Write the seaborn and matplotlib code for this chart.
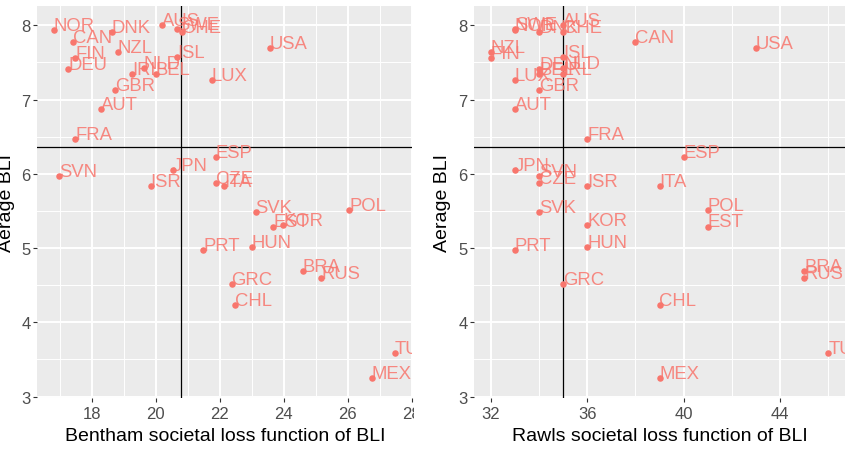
import matplotlib
matplotlib.use("Agg")
import matplotlib.pyplot as plt
import matplotlib.transforms as mtransforms
import seaborn as sns
import pandas as pd
import numpy as np

countries = ["AUS", "AUT", "BEL", "CAN", "CHL", "CZE", "DNK", "EST", "FIN", "FRA",
             "DEU", "GRC", "HUN", "ISL", "IRL", "ISR", "ITA", "JPN", "KOR", "LUX",
             "MEX", "NLD", "NZL", "NOR", "POL", "PRT", "SVK", "SVN", "ESP", "SWE",
             "CHE", "TUR", "GBR", "USA", "BRA", "RUS"]

avg_bli = [8.01, 6.87, 7.34, 7.77, 4.23, 5.87, 7.91, 5.29, 7.56, 6.47,
           7.41, 4.51, 5.01, 7.57, 7.34, 5.84, 5.84, 6.05, 5.31, 7.27,
           3.25, 7.43, 7.64, 7.94, 5.51, 4.97, 5.48, 5.97, 6.23, 7.95,
           7.91, 3.59, 7.13, 7.70, 4.69, 4.59]

bentham = [20.19, 18.29, 20.00, 17.40, 22.48, 21.87, 18.63, 23.68, 17.48, 17.48,
           17.27, 22.37, 23.00, 20.67, 19.27, 19.84, 22.15, 20.54, 23.98, 21.75,
           26.75, 19.63, 18.81, 16.82, 26.05, 21.48, 23.12, 16.98, 21.87, 20.68,
           20.83, 27.48, 18.73, 23.57, 24.59, 25.17]

rawls = [35, 33, 34, 38, 39, 34, 34, 41, 32, 36,
         34, 35, 36, 35, 35, 36, 39, 33, 36, 33,
         39, 35, 32, 33, 41, 33, 34, 34, 40, 33,
         35, 46, 34, 43, 45, 45]

hline_bli = 6.355
vline_bentham = 20.8
vline_rawls = 35.0

left_xticks = [18, 20, 22, 24, 26, 28]
right_xticks = [32, 36, 40, 44]
yticks = [3, 4, 5, 6, 7, 8]

df = pd.DataFrame({"country": countries, "bli": avg_bli,
                   "bentham": bentham, "rawls": rawls})

plt.rcParams["font.family"] = ["Liberation Sans", "DejaVu Sans"]

W, H = 849, 452
fig = plt.figure(figsize=(W / 100, H / 100), dpi=100)

PT_COLOR = "#F8766D"
PANEL = "#EBEBEB"


def px_axes(x0, x1, y0, y1):
    return fig.add_axes([x0 / W, 1 - y1 / H, (x1 - x0) / W, (y1 - y0) / H])


def style(ax, xlim, xticks, minor_x):
    ax.set_facecolor(PANEL)
    ax.set_xlim(*xlim)
    ax.set_ylim(2.98, 8.26)
    ax.set_xticks(xticks)
    ax.set_xticks(minor_x, minor=True)
    ax.set_yticks(yticks)
    ax.set_yticks([3.5, 4.5, 5.5, 6.5, 7.5], minor=True)
    ax.grid(which="major", color="white", lw=1.4)
    ax.grid(which="minor", color="white", lw=0.7)
    ax.set_axisbelow(True)
    for s in ax.spines.values():
        s.set_visible(False)
    ax.tick_params(which="major", length=3, width=0.8, color="#333333",
                   labelcolor="#4D4D4D", labelsize=12)
    ax.tick_params(axis="y", pad=1.5)
    ax.tick_params(axis="x", pad=2.5)
    ax.tick_params(which="minor", length=0)
    ax.set_xlabel("")
    ax.set_ylabel("")


def draw(ax, xcol, vline):
    ax.axhline(hline_bli, color="black", lw=0.9, zorder=2)
    ax.axvline(vline, color="black", lw=0.9, zorder=2)
    sns.scatterplot(data=df, x=xcol, y="bli", ax=ax, color=PT_COLOR, s=22,
                    edgecolor=PT_COLOR, linewidth=0, zorder=3, legend=False)
    for _, r in df.iterrows():
        ax.text(r[xcol], r["bli"], r["country"], color=PT_COLOR, alpha=0.85,
                fontsize=13.3, ha="left", va="baseline", clip_on=True, zorder=4)


axL = px_axes(37, 412, 7, 399)
draw(axL, "bentham", vline_bentham)
style(axL, (16.29, 28.01), left_xticks, [17, 19, 21, 23, 25, 27])

axR = px_axes(474, 845, 7, 399)
draw(axR, "rawls", vline_rawls)
style(axR, (31.3, 46.7), right_xticks, [34, 38, 42, 46])

# the left chart is cropped at its right edge in the reference (the "28" is cut)
clip_rect = mtransforms.TransformedBbox(
    mtransforms.Bbox.from_extents(0, 0, 414 / W, 1), fig.transFigure)
for lab in axL.get_xticklabels():
    lab.set_clip_on(True)
    lab.set_clip_box(clip_rect)

fig.text(7 / W, 1 - 203 / H, "Aerage BLI", rotation=90, ha="center", va="center",
         fontsize=14, color="black")
fig.text(442 / W, 1 - 203 / H, "Aerage BLI", rotation=90, ha="center", va="center",
         fontsize=14, color="black")
fig.text(225 / W, 1 - 437 / H, "Bentham societal loss function of BLI",
         ha="center", va="center", fontsize=14, color="black")
fig.text(660 / W, 1 - 437 / H, "Rawls societal loss function of BLI",
         ha="center", va="center", fontsize=14, color="black")

fig.savefig("out.png", dpi=100)
